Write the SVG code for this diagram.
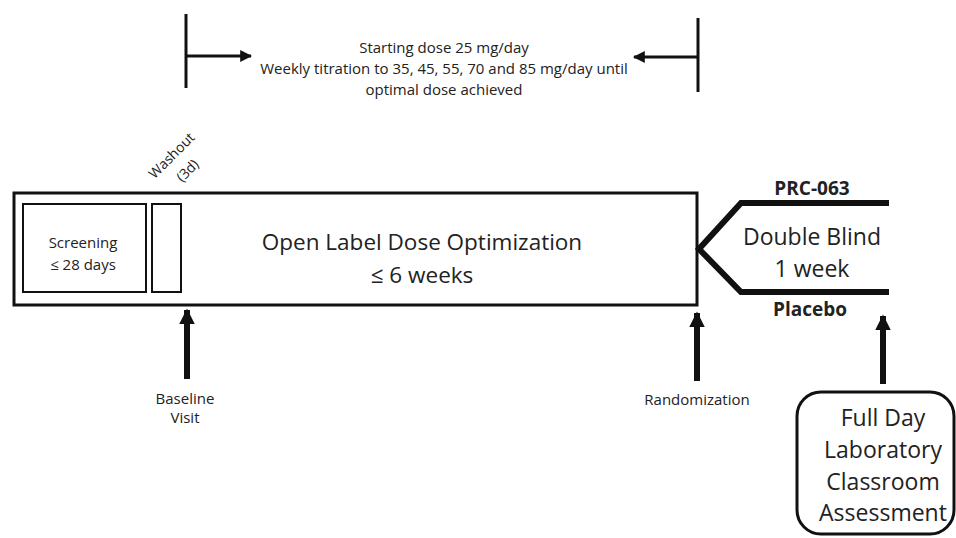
<svg xmlns="http://www.w3.org/2000/svg" width="956" height="538" viewBox="0 0 956 538">
<style>
text{font-family:"Open Sans","Liberation Sans",sans-serif;fill:#222;text-anchor:middle}
.thin{fill:none;stroke:#111;stroke-width:2}
.thick{fill:none;stroke:#111;stroke-width:3}
.branch{fill:none;stroke:#111;stroke-width:6}
.s15{font-size:15px}
.s14{font-size:14px}
.s22{font-size:22.5px}
.s23{font-size:23px}
.b{font-weight:bold;font-size:19px}
</style>
<defs>
<marker id="ah" viewBox="0 0 10 10" refX="9" refY="5" markerWidth="4" markerHeight="4" orient="auto">
<path d="M0,0 L10,5 L0,10 z" fill="#111"/>
</marker>
<marker id="big" viewBox="0 0 10 10" refX="9" refY="5" markerWidth="2.6" markerHeight="2.6" orient="auto">
<path d="M0,0 L10,5 L0,10 z" fill="#111"/>
</marker>
</defs>
<rect width="956" height="538" fill="#fff"/>

<g id="open-label">
<rect x="14" y="193" width="683" height="112" class="thick"/>
<text class="s22" x="422" y="250">Open Label Dose Optimization</text>
<text class="s22" x="422" y="283">≤ 6 weeks</text>
</g>
<g id="screening">
<rect x="23" y="204" width="123" height="88" class="thin"/>
<text class="s15" x="83" y="248">Screening</text>
<text class="s15" x="83" y="270">≤ 28 days</text>
</g>
<g id="washout">
<rect x="152" y="204" width="29" height="88" class="thin"/>
<text class="s14" transform="translate(175,159) rotate(-45)" x="0" y="0">Washout</text>
<text class="s14" transform="translate(191,174) rotate(-45)" x="0" y="0">(3d)</text>
</g>
<g id="titration">
<text class="s15" x="444" y="53">Starting dose 25 mg/day</text>
<text class="s15" x="444" y="74">Weekly titration to 35, 45, 55, 70 and 85 mg/day until</text>
<text class="s15" x="444" y="95">optimal dose achieved</text>
</g>
<g id="double-blind">
<text class="b" x="812" y="195">PRC-063</text>
<text class="s23" x="812" y="245">Double Blind</text>
<text class="s23" x="812" y="277">1 week</text>
<text class="b" x="810" y="316">Placebo</text>
</g>
<g id="baseline">
<text class="s15" x="185" y="404">Baseline</text>
<text class="s15" x="185" y="423">Visit</text>
</g>
<g id="randomization">
<text class="s15" x="697" y="405">Randomization</text>
</g>
<g id="assessment">
<rect x="797" y="392" width="157" height="142" rx="24" class="thick"/>
<text class="s23" x="883" y="426">Full Day</text>
<text class="s23" x="883" y="458">Laboratory</text>
<text class="s23" x="883" y="490">Classroom</text>
<text class="s23" x="883" y="521">Assessment</text>
</g>

<g id="connectors">
<line x1="186" y1="14" x2="186" y2="88" class="thick"/>
<line x1="186" y1="56" x2="251" y2="56" class="thick" marker-end="url(#ah)"/>
<line x1="698" y1="18" x2="698" y2="92" class="thick"/>
<line x1="698" y1="57" x2="634" y2="57" class="thick" marker-end="url(#ah)"/>
<path d="M889,203 H741 L699,249 L741,292 H889" class="branch"/>
<line x1="187" y1="379" x2="187" y2="310" stroke="#111" stroke-width="6" marker-end="url(#big)"/>
<line x1="697" y1="381" x2="697" y2="313" stroke="#111" stroke-width="6" marker-end="url(#big)"/>
<line x1="883" y1="384" x2="883" y2="316" stroke="#111" stroke-width="6" marker-end="url(#big)"/>
</g>
</svg>
